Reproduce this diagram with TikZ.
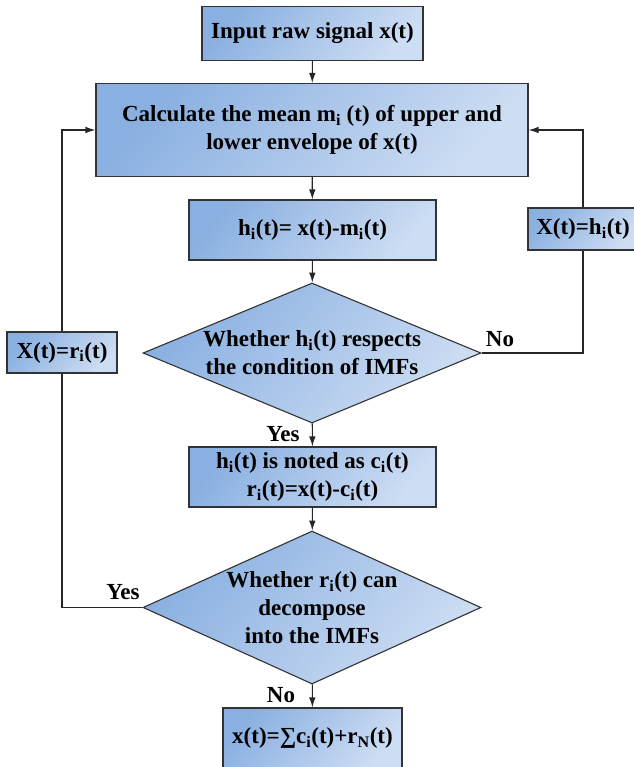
\documentclass[tikz,border=0pt]{standalone}
\usepackage{fontspec}
\setmainfont{Liberation Serif}
\usetikzlibrary{shapes.geometric,arrows.meta}
\definecolor{bdark}{RGB}{138,176,225}
\definecolor{blight}{RGB}{205,221,243}
\tikzset{
  txtfont/.style={font=\bfseries\fontsize{23}{28}\selectfont},
  fillbox/.style={draw=black!80, line width=1.1pt, top color=bdark, bottom color=blight, shading angle=50, txtfont, align=center, inner sep=0pt},
  rbox/.style={fillbox, rectangle},
  dbox/.style={fillbox, diamond},
  lab/.style={txtfont, inner sep=0pt},
  arr/.style={-{Latex[length=10pt,width=6.5pt]}, line width=1.1pt, black!85},
  conn/.style={line width=1.1pt, black!85},
}
\begin{document}
\begin{tikzpicture}[x=1pt,y=-1pt]
\useasboundingbox (0,0) rectangle (633,767);
\node[rbox, minimum width=221pt, minimum height=54pt] (in) at (312.5,33.5) {Input raw signal x(t)};
\node[rbox, minimum width=432pt, minimum height=93pt] (calc) at (312,130) {Calculate the mean m\textsubscript{i} (t) of upper and\\lower envelope of x(t)};
\node[rbox, minimum width=247pt, minimum height=60pt] (h) at (312.5,230) {h\textsubscript{i}(t)= x(t)-m\textsubscript{i}(t)};
\node[dbox, minimum width=338pt, minimum height=140pt] (d1) at (312,353) {};
\node[lab, align=center] (d1t) at (d1) {Whether h\textsubscript{i}(t) respects\\the condition of IMFs};
\node[rbox, minimum width=247pt, minimum height=60pt] (c) at (312.5,477) {h\textsubscript{i}(t) is noted as c\textsubscript{i}(t)\\r\textsubscript{i}(t)=x(t)-c\textsubscript{i}(t)};
\node[dbox, minimum width=338pt, minimum height=153pt] (d2) at (312,607.5) {};
\node[lab, align=center] (d2t) at (d2) {Whether r\textsubscript{i}(t) can\\decompose\\into the IMFs};
\node[rbox, minimum width=179pt, minimum height=60pt] (out) at (312.5,738) {x(t)=∑c\textsubscript{i}(t)+r\textsubscript{N}(t)};
\node[rbox, minimum width=110pt, minimum height=42pt] (xh) at (583,229) {X(t)=h\textsubscript{i}(t)};
\node[rbox, minimum width=110pt, minimum height=41pt] (xr) at (62,352.5) {X(t)=r\textsubscript{i}(t)};
% labels
\node[lab] (no1) at (500,339) {No};
\node[lab] (yes1) at (283,434) {Yes};
\node[lab] (yes2) at (123,592) {Yes};
\node[lab] (no2) at (281,695) {No};
% main arrows
\draw[arr] (in) -- (calc);
\draw[arr] (calc) -- (h);
\draw[arr] (h) -- (d1);
\draw[arr] (d1) -- (c);
\draw[arr] (c) -- (d2);
\draw[arr] (d2) -- (out);
% right loop
\draw[conn] (d1.east) -| (xh.south);
\draw[arr] (xh.north) |- (calc.east);
% left loop
\draw[conn] (d2.west) -| (xr.south);
\draw[arr] (xr.north) |- (calc.west);
\end{tikzpicture}
\end{document}
